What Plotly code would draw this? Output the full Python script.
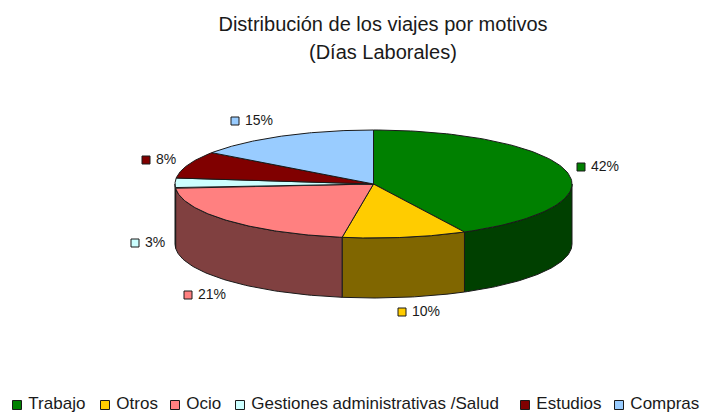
import numpy as np
import plotly.graph_objects as go

categories = ["Trabajo", "Otros", "Ocio", "Gestiones administrativas /Salud", "Estudios", "Compras"]
values = [42, 10, 21, 3, 8, 15]
top_colors = ["#008000", "#FFCC00", "#FF8080", "#CCFFFF", "#800000", "#99CCFF"]
side_colors = ["#004000", "#806600", "#804040", "#668080", "#400000", "#4D6680"]

# Layout of the drawing (pixel-like axes)
CX, CY, RX, RY, DEPTH = 373.5, 184, 198.5, 54, 60
label_x = [581, 402, 188, 135, 146, 235]
label_y = [167, 312, 295, 243, 160, 121]
legend_x = [17, 105, 175, 240, 525, 619]
LEGEND_Y = 405
FONT = "Liberation Sans"
INK = "#1a1a1a"


def ellipse(theta):
    return CX + RX * np.sin(theta), CY - RY * np.cos(theta)


fig = go.Figure()
fractions = np.array(values) / sum(values)
edges = np.concatenate([[0], np.cumsum(fractions)]) * 2 * np.pi

# visible side walls (front half of the disc)
for i, color in enumerate(side_colors):
    a, b = max(edges[i], np.pi / 2), min(edges[i + 1], 3 * np.pi / 2)
    if b <= a:
        continue
    t = np.linspace(a, b, 60)
    x, y = ellipse(t)
    fig.add_trace(go.Scatter(
        x=np.concatenate([x, x[::-1], x[:1]]),
        y=np.concatenate([y, y[::-1] + DEPTH, y[:1]]),
        mode="lines", fill="toself", fillcolor=color,
        line=dict(color=INK, width=1), hoverinfo="skip", showlegend=False))

# top faces
for i, color in enumerate(top_colors):
    t = np.linspace(edges[i], edges[i + 1], 100)
    x, y = ellipse(t)
    fig.add_trace(go.Scatter(
        x=np.concatenate([[CX], x, [CX]]),
        y=np.concatenate([[CY], y, [CY]]),
        mode="lines", fill="toself", fillcolor=color,
        line=dict(color=INK, width=1), name=categories[i],
        hoverinfo="name", showlegend=False))

# data labels
fig.add_trace(go.Scatter(
    x=label_x, y=label_y, mode="markers+text",
    text=["\u00a0" + f"{v}%" for v in values], textposition="middle right",
    textfont=dict(family=FONT, size=14, color=INK),
    marker=dict(symbol="square", size=8, color=top_colors, line=dict(color=INK, width=1)),
    hoverinfo="skip", showlegend=False, cliponaxis=False))

# legend row
fig.add_trace(go.Scatter(
    x=legend_x, y=[LEGEND_Y] * len(categories), mode="markers+text",
    text=["\u00a0" + c for c in categories], textposition="middle right",
    textfont=dict(family=FONT, size=17, color=INK),
    marker=dict(symbol="square", size=9, color=top_colors, line=dict(color=INK, width=1)),
    hoverinfo="skip", showlegend=False, cliponaxis=False))

fig.update_layout(
    width=701, height=415, autosize=False,
    margin=dict(l=0, r=0, t=0, b=0),
    paper_bgcolor="white", plot_bgcolor="white",
    title=dict(text="Distribución de los viajes por motivos",
               x=383 / 701, xanchor="center", y=1 - 24 / 415, yanchor="middle",
               font=dict(family=FONT, size=20, color=INK)),
    annotations=[dict(text="(Días Laborales)", x=383, y=52, xref="x", yref="y",
                      showarrow=False, xanchor="center", yanchor="middle",
                      font=dict(family=FONT, size=20, color=INK))],
    xaxis=dict(range=[0, 701], visible=False, fixedrange=True),
    yaxis=dict(range=[415, 0], visible=False, fixedrange=True),
)

fig.write_html("out.html", config={"displayModeBar": False},
               post_script="document.body.style.margin='0';document.documentElement.style.overflow='hidden';")
